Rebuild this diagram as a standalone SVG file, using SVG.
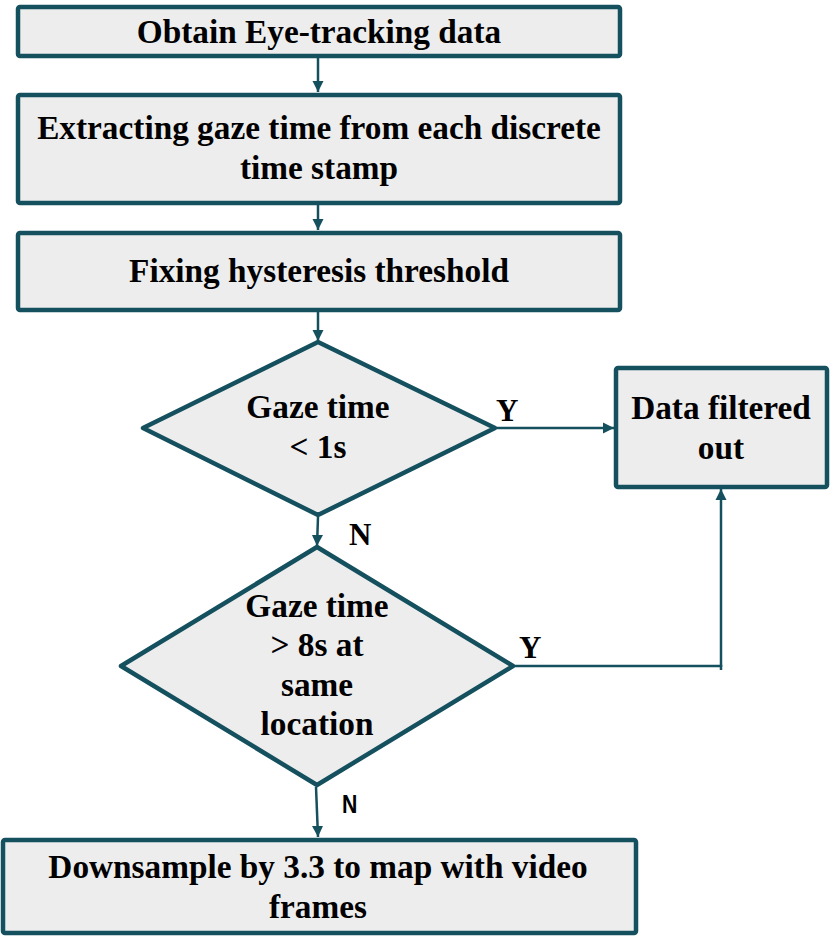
<svg xmlns="http://www.w3.org/2000/svg" width="840" height="947" viewBox="0 0 840 947">
<style>
.n{fill:#EDEDED;stroke:#15505F;stroke-width:4.5;stroke-linejoin:round}
.t{font-family:"Liberation Serif","Times New Roman",serif;font-weight:bold;font-size:33.3px;fill:#000;text-anchor:middle}
.c{fill:none;stroke:#15505F;stroke-width:2.5}
.l{font-family:"Liberation Serif",serif;font-weight:bold;font-size:31px;fill:#000}
.s{font-family:"Liberation Sans",Arial,sans-serif;font-weight:bold;font-size:25px;fill:#000}
</style>
<defs>
<marker id="ah" viewBox="0 0 10 10" refX="10" refY="5" markerWidth="4.5" markerHeight="4.5" orient="auto" markerUnits="strokeWidth">
<path d="M0,0 L10,5 L0,10 Z" fill="#15505F"/>
</marker>
</defs>
<g id="connectors">
<line class="c" x1="318" y1="58" x2="318" y2="92" marker-end="url(#ah)"/>
<line class="c" x1="318" y1="205" x2="318" y2="230" marker-end="url(#ah)"/>
<line class="c" x1="318" y1="312" x2="318" y2="341" marker-end="url(#ah)"/>
<line class="c" x1="318" y1="517" x2="317" y2="546" marker-end="url(#ah)"/>
<line class="c" x1="316" y1="787" x2="318" y2="837" marker-end="url(#ah)"/>
<line class="c" x1="497" y1="428" x2="614" y2="428" marker-end="url(#ah)"/>
<polyline class="c" points="515,666 721,666 721,670"/>
<line class="c" x1="721" y1="667" x2="721" y2="489" marker-end="url(#ah)"/>
<text class="l" x="496" y="421">Y</text>
<text class="l" x="519" y="658">Y</text>
<text class="l" x="349" y="545">N</text>
<text class="s" transform="translate(342,813) scale(0.85,1)">N</text>
</g>
<g id="n1">
<rect class="n" x="18" y="7" width="602" height="49" rx="2"/>
<text class="t" x="319" y="43">Obtain Eye-tracking data</text>
</g>
<g id="n2">
<rect class="n" x="18" y="95" width="602" height="108" rx="2"/>
<text class="t" x="319" y="139">Extracting gaze time from each discrete</text>
<text class="t" x="319" y="179">time stamp</text>
</g>
<g id="n3">
<rect class="n" x="18" y="233" width="602" height="77" rx="2"/>
<text class="t" x="319" y="282">Fixing hysteresis threshold</text>
</g>
<g id="d1">
<polygon class="n" points="318,342 495,428 318,515 143,428"/>
<text class="t" x="318" y="418">Gaze time</text>
<text class="t" x="318" y="458">&lt; 1s</text>
</g>
<g id="d2">
<polygon class="n" points="317,547 513,666 317,785 121,666"/>
<text class="t" x="317" y="617">Gaze time</text>
<text class="t" x="317" y="656">&gt; 8s at</text>
<text class="t" x="317" y="696">same</text>
<text class="t" x="317" y="735">location</text>
</g>
<g id="n4">
<rect class="n" x="616" y="368" width="211" height="119" rx="2"/>
<text class="t" x="721" y="419">Data filtered</text>
<text class="t" x="721" y="459">out</text>
</g>
<g id="n5">
<rect class="n" x="3" y="840" width="633" height="93" rx="2"/>
<text class="t" x="318" y="878">Downsample by 3.3 to map with video</text>
<text class="t" x="318" y="918">frames</text>
</g>
</svg>
